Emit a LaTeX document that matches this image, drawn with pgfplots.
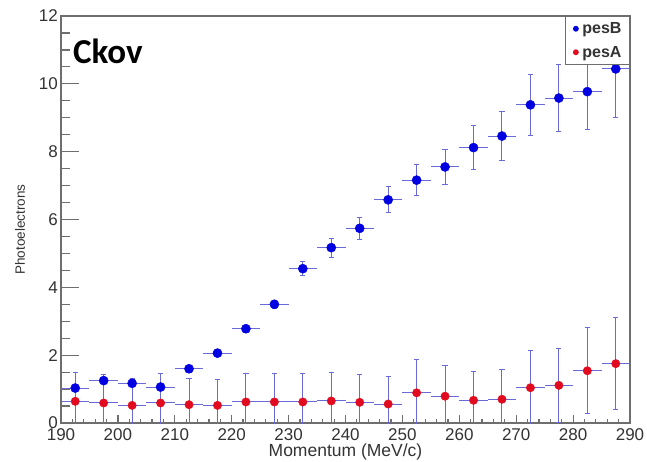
\documentclass[border=0pt]{standalone}
\usepackage{fontspec}
\setmainfont{Liberation Sans}
\newfontfamily\titlefont{Carlito}
\usepackage{pgfplots}
\usepackage{pgfplotstable}
\pgfplotsset{compat=1.18}

\definecolor{errc}{RGB}{105,105,215}
\definecolor{mblue}{RGB}{0,0,225}
\definecolor{mred}{RGB}{225,10,30}
\definecolor{framec}{RGB}{110,110,110}

% momentum bin centre, half bin width, mean photoelectrons, error
\pgfplotstableread{
x     ex   y     ey
192.5 2.5  1.03  0.10
197.5 2.5  1.25  0.10
202.5 2.5  1.17  0.10
207.5 2.5  1.06  0.10
212.5 2.5  1.60  0.10
217.5 2.5  2.06  0.10
222.5 2.5  2.78  0.10
227.5 2.5  3.50  0.12
232.5 2.5  4.55  0.20
237.5 2.5  5.17  0.28
242.5 2.5  5.74  0.33
247.5 2.5  6.58  0.38
252.5 2.5  7.16  0.46
257.5 2.5  7.55  0.52
262.5 2.5  8.12  0.65
267.5 2.5  8.46  0.73
272.5 2.5  9.38  0.90
277.5 2.5  9.58  1.00
282.5 2.5  9.77  1.13
287.5 2.5  10.44 1.44
}\pesB

\pgfplotstableread{
x     ex   y     ey
192.5 2.5  0.64  0.86
197.5 2.5  0.59  0.83
202.5 2.5  0.52  0.80
207.5 2.5  0.59  0.86
212.5 2.5  0.54  0.76
217.5 2.5  0.52  0.76
222.5 2.5  0.62  0.83
227.5 2.5  0.62  0.83
232.5 2.5  0.62  0.84
237.5 2.5  0.65  0.85
242.5 2.5  0.61  0.83
247.5 2.5  0.56  0.80
252.5 2.5  0.89  0.98
257.5 2.5  0.79  0.91
262.5 2.5  0.67  0.85
267.5 2.5  0.70  0.87
272.5 2.5  1.04  1.09
277.5 2.5  1.11  1.10
282.5 2.5  1.54  1.27
287.5 2.5  1.75  1.36
}\pesA

\begin{document}
\begin{tikzpicture}
% x axis with its short ticks, drawn first
\begin{axis}[
  scale only axis, width=569pt, height=407pt,
  xmin=190, xmax=290, ymin=0, ymax=12,
  tick align=inside, xtick pos=bottom, ytick pos=left,
  major tick length=8pt, minor tick length=4pt,
  xtick={190,200,...,290}, minor x tick num=4,
  ytick=\empty,
  tick style={draw=framec, line width=1.2pt},
  axis line style={draw=framec, line width=1.3pt},
  /pgf/number format/assume math mode=true,
  ticklabel style={font=\fontsize{17}{17}\selectfont, text=black!80},
  xticklabel style={inner sep=4pt, yshift=-1pt},
  xlabel={Momentum (MeV/c)},
  xlabel style={at={(axis description cs:0.5,-0.072)}, anchor=center,
    font=\fontsize{17.5}{17.5}\selectfont, text=black!80},
]
\addplot[draw=none, forget plot] coordinates {(190,0)};
% tick marks along the momentum axis
\pgfplotsinvokeforeach{200,210,...,280}{
  \draw[framec, line width=1.2pt] (axis cs:#1,0) -- ++(0pt,8pt);}
\pgfplotsinvokeforeach{192,194,196,198,202,204,206,208,212,214,216,218,222,224,226,228,
  232,234,236,238,242,244,246,248,252,254,256,258,262,264,266,268,272,274,276,278,
  282,284,286,288}{
  \draw[framec, line width=1.2pt] (axis cs:#1,0) -- ++(0pt,4pt);}
\end{axis}
% y axis with its long ticks, data and legend
\begin{axis}[
  scale only axis, width=569pt, height=407pt,
  xmin=190, xmax=290, ymin=0, ymax=12,
  tick align=inside, xtick pos=bottom, ytick pos=left,
  major tick length=18pt, minor tick length=9pt,
  xtick=\empty,
  ytick={0,2,...,12}, minor y tick num=3,
  tick style={draw=framec, line width=1.2pt},
  axis line style={draw=framec, line width=1.3pt},
  /pgf/number format/assume math mode=true,
  ticklabel style={font=\fontsize{17}{17}\selectfont, text=black!80},
  yticklabel style={inner sep=3pt},
  ylabel={Photoelectrons},
  ylabel style={at={(axis description cs:-0.072,0.475)}, anchor=center,
    font=\fontsize{13.5}{13.5}\selectfont, text=black!80},
  legend style={at={(1,1)}, anchor=north east, draw=framec, fill=white,
    line width=1pt, font=\bfseries\fontsize{16}{16}\selectfont, text=black!80,
    inner xsep=6pt, inner ysep=4pt, row sep=7pt},
  legend cell align=left,
]
% tick marks along the photoelectron axis
\pgfplotsinvokeforeach{2,4,6,8,10}{
  \draw[framec, line width=1.2pt] (axis cs:190,#1) -- ++(18pt,0pt);}
\pgfplotsinvokeforeach{0.5,1,1.5,2.5,3,3.5,4.5,5,5.5,6.5,7,7.5,8.5,9,9.5,10.5,11,11.5}{
  \draw[framec, line width=1.2pt] (axis cs:190,#1) -- ++(9pt,0pt);}

% horizontal bars: bin widths
\addplot[forget plot, only marks, mark=none,
  error bars/.cd, x dir=both, x explicit, error mark=none,
  error bar style={errc, line width=1pt}]
  table[x=x, y=y, x error=ex] {\pesB};
% vertical bars and markers
\addplot[only marks, mark=*, mark size=4.6pt, mark options={draw=mblue, fill=mblue},
  legend image code/.code={\fill[mblue] (3pt,0pt) circle (2.4pt); \path (-1pt,0pt) (7pt,0pt);},
  error bars/.cd, y dir=both, y explicit,
  error bar style={errc, line width=1pt},
  error mark options={rotate=90, mark size=2.6pt, errc, line width=1pt}]
  table[x=x, y=y, y error=ey] {\pesB};
\addlegendentry{pesB}

\addplot[forget plot, only marks, mark=none,
  error bars/.cd, x dir=both, x explicit, error mark=none,
  error bar style={errc, line width=1pt}]
  table[x=x, y=y, x error=ex] {\pesA};
\addplot[only marks, mark=*, mark size=4.2pt, mark options={draw=mred, fill=mred},
  legend image code/.code={\fill[mred] (3pt,0pt) circle (2.4pt); \path (-1pt,0pt) (7pt,0pt);},
  error bars/.cd, y dir=both, y explicit,
  error bar style={errc, line width=1pt},
  error mark options={rotate=90, mark size=2.6pt, errc, line width=1pt}]
  table[x=x, y=y, y error=ey] {\pesA};
\addlegendentry{pesA}

\node[anchor=base west, inner sep=0pt, font=\titlefont\bfseries\fontsize{35}{35}\selectfont]
  at (axis description cs:0.021,0.8845) {Ckov};
\end{axis}
\pgfresetboundingbox
\path (-61pt,-38pt) rectangle (586pt,423pt);
\end{tikzpicture}
\end{document}
